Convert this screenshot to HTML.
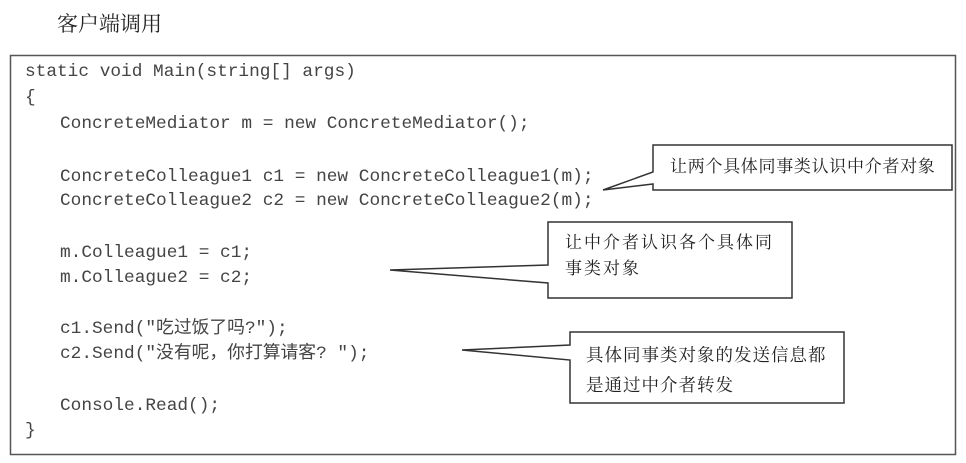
<!DOCTYPE html>
<html><head><meta charset="utf-8"><style>
body{margin:0;background:#fff;width:966px;height:463px;overflow:hidden;position:relative}
.t{position:absolute;left:57px;top:8px;font:21px "Liberation Serif","Noto Serif CJK SC",serif;color:#222}
.c{position:absolute;font:17.8px "Liberation Mono","Noto Sans CJK SC",monospace;color:#444;white-space:pre;line-height:20px}
.n{position:absolute;font:17px "Liberation Serif","Noto Serif CJK SC",serif;color:#222;line-height:26px;white-space:nowrap}
</style></head><body>
<div class="t">客户端调用</div>
<svg width="966" height="463" style="position:absolute;left:0;top:0">
<rect x="10.5" y="55.5" width="945" height="399" fill="none" stroke="#555" stroke-width="1.5"/>
<path d="M653 145 H952 V190 H653 V184 L603 190 L653 172 Z" fill="#fff" stroke="#333" stroke-width="1.5"/>
<path d="M548 222 H792 V298 H548 V283 L390 270 L548 265 Z" fill="#fff" stroke="#333" stroke-width="1.5"/>
<path d="M570 332 H844 V403 H570 V360 L462 350 L570 345 Z" fill="#fff" stroke="#333" stroke-width="1.5"/>
</svg>
<div class="c" style="left:25px;top:62px">static void Main(string[] args)</div>
<div class="c" style="left:25px;top:88px">{</div>
<div class="c" style="left:60px;top:114px">ConcreteMediator m = new ConcreteMediator();</div>
<div class="c" style="left:60px;top:167px">ConcreteColleague1 c1 = new ConcreteColleague1(m);</div>
<div class="c" style="left:60px;top:191px">ConcreteColleague2 c2 = new ConcreteColleague2(m);</div>
<div class="c" style="left:60px;top:243px">m.Colleague1 = c1;</div>
<div class="c" style="left:60px;top:268px">m.Colleague2 = c2;</div>
<div class="c" style="left:60px;top:319px">c1.Send("吃过饭了吗?");</div>
<div class="c" style="left:60px;top:344px">c2.Send("没有呢，你打算请客? ");</div>
<div class="c" style="left:60px;top:396px">Console.Read();</div>
<div class="c" style="left:25px;top:421px">}</div>
<div class="n" style="left:670px;top:154px;letter-spacing:0.7px">让两个具体同事类认识中介者对象</div>
<div class="n" style="left:565px;top:230px;letter-spacing:2px">让中介者认识各个具体同<br>事类对象</div>
<div class="n" style="left:586px;top:340px;line-height:30px;font-size:17.5px;letter-spacing:1px">具体同事类对象的发送信息都<br>是通过中介者转发</div>
</body></html>
